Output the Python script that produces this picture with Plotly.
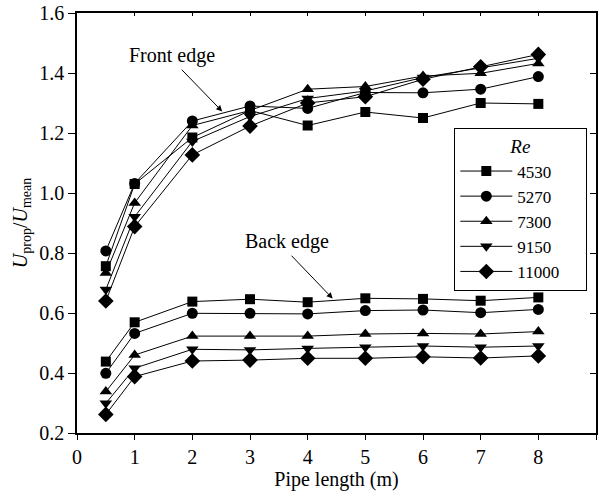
import plotly.graph_objects as go

# Pipe length positions (m)
pipe_length = [0.5, 1, 2, 3, 4, 5, 6, 7, 8]
re_labels = ["4530", "5270", "7300", "9150", "11000"]

# U_prop / U_mean at the front edge of the propagating front
front_4530 = [0.756, 1.030, 1.185, 1.275, 1.225, 1.270, 1.250, 1.300, 1.297]
front_5270 = [0.807, 1.032, 1.240, 1.290, 1.282, 1.335, 1.334, 1.346, 1.388]
front_7300 = [0.733, 0.967, 1.225, 1.275, 1.346, 1.355, 1.390, 1.399, 1.432]
front_9150 = [0.678, 0.921, 1.172, 1.255, 1.315, 1.340, 1.385, 1.416, 1.449]
front_11000 = [0.640, 0.888, 1.127, 1.223, 1.300, 1.321, 1.379, 1.421, 1.462]

# U_prop / U_mean at the back edge
back_4530 = [0.438, 0.569, 0.638, 0.646, 0.636, 0.649, 0.647, 0.641, 0.652]
back_5270 = [0.399, 0.532, 0.599, 0.599, 0.597, 0.608, 0.610, 0.601, 0.612]
back_7300 = [0.338, 0.460, 0.523, 0.523, 0.523, 0.530, 0.532, 0.530, 0.538]
back_9150 = [0.299, 0.416, 0.479, 0.477, 0.482, 0.486, 0.490, 0.486, 0.490]
back_11000 = [0.262, 0.388, 0.440, 0.443, 0.449, 0.449, 0.454, 0.450, 0.457]

front_series = [front_4530, front_5270, front_7300, front_9150, front_11000]
back_series = [back_4530, back_5270, back_7300, back_9150, back_11000]
symbols = ["square", "circle", "triangle-up", "triangle-down", "diamond"]
sizes = [10, 11, 11, 11, 12]

FONT = "Liberation Serif"
PAD = "\u00a0" * 5  # right padding inside the legend box

fig = go.Figure()
for label, fr, bk, sym, sz in zip(re_labels, front_series, back_series, symbols, sizes):
    fig.add_trace(go.Scatter(
        x=pipe_length + [None] + pipe_length,
        y=fr + [None] + bk,
        mode="lines+markers",
        name=label + PAD,
        connectgaps=False,
        line=dict(color="black", width=1),
        marker=dict(symbol=sym, size=sz, color="black", line=dict(width=0)),
    ))

axis_common = dict(
    showgrid=False, zeroline=False,
    linecolor="black", linewidth=1.5,
    tickcolor="black", tickwidth=1,
    tickfont=dict(family=FONT, size=20, color="black"),
)

fig.update_layout(
    width=599, height=496,
    margin=dict(l=76.5, r=2.5, t=12.7, b=63.3),
    paper_bgcolor="white", plot_bgcolor="white",
    font=dict(family=FONT, size=20, color="black"),
    xaxis=dict(
        range=[0, 9], dtick=1, tick0=0, ticks="outside", ticklen=5,
        title=dict(text="Pipe length (m)", font=dict(family=FONT, size=20), standoff=4),
        **axis_common,
    ),
    yaxis=dict(
        range=[0.2, 1.6], dtick=0.2, tick0=0.2, ticks="outside", ticklen=7,
        tickformat=".1f",
        title=dict(text="<i>U</i><sub>prop</sub>/<i>U</i><sub>mean</sub>",
                   font=dict(family=FONT, size=20), standoff=6),
        **axis_common,
    ),
    xaxis2=dict(
        range=[0, 9], dtick=1, overlaying="x", side="top", anchor="y",
        ticks="inside", ticklen=3, showticklabels=False,
        showgrid=False, zeroline=False, showline=True,
        linecolor="black", linewidth=1.5, tickcolor="black",
    ),
    yaxis2=dict(
        range=[0.2, 1.6], dtick=0.2, overlaying="y", side="right", anchor="x",
        ticks="inside", ticklen=6, showticklabels=False,
        showgrid=False, zeroline=False, showline=True,
        linecolor="black", linewidth=1.5, tickcolor="black",
    ),
    legend=dict(
        x=0.727, y=0.7267, xanchor="left", yanchor="top",
        bgcolor="white", bordercolor="black", borderwidth=1,
        font=dict(family=FONT, size=17, color="black"),
        title=dict(text="<i>Re</i>", side="top center",
                   font=dict(family=FONT, size=19, color="black")),
        tracegroupgap=0, itemwidth=52,
    ),
    showlegend=True,
)

# Invisible trace so the mirrored top/right axes render
fig.add_trace(go.Scatter(x=[None], y=[None], xaxis="x2", yaxis="y2",
                         showlegend=False, hoverinfo="skip"))

# Edge labels with arrows
fig.add_annotation(x=1.65, y=1.459, xref="x", yref="y", text="Front edge",
                   showarrow=False, font=dict(family=FONT, size=20, color="black"))
fig.add_annotation(x=2.518, y=1.272, ax=1.791, ay=1.416, xref="x", yref="y",
                   axref="x", ayref="y", text="", showarrow=True,
                   arrowhead=2, arrowsize=1.2, arrowwidth=1, arrowcolor="black")
fig.add_annotation(x=3.634, y=0.837, xref="x", yref="y", text="Back edge",
                   showarrow=False, font=dict(family=FONT, size=20, color="black"))
fig.add_annotation(x=4.434, y=0.648, ax=3.695, ay=0.796, xref="x", yref="y",
                   axref="x", ayref="y", text="", showarrow=True,
                   arrowhead=2, arrowsize=1.2, arrowwidth=1, arrowcolor="black")

fig.write_html("out.html")
